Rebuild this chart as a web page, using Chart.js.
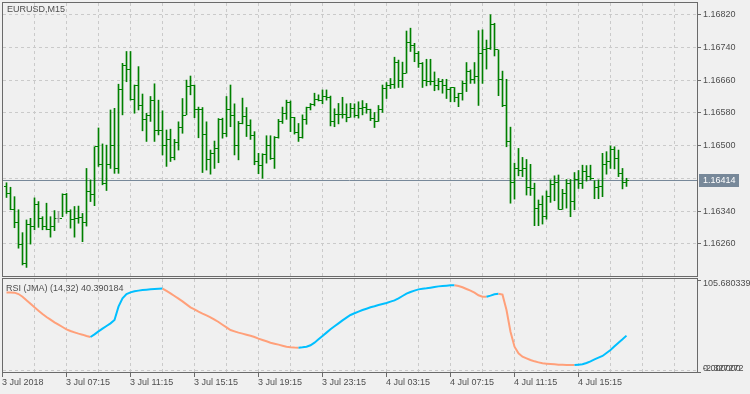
<!DOCTYPE html>
<html><head><meta charset="utf-8">
<script src="https://cdn.jsdelivr.net/npm/chart.js@4.4.0/dist/chart.umd.min.js"></script>
<style>
html,body{margin:0;padding:0;background:#f0f0f0;}
#wrap{position:relative;width:750px;height:394px;overflow:hidden;}
canvas{position:absolute;left:0;top:0;}
</style></head><body>
<div id="wrap"><canvas id="main" width="750" height="394"></canvas><canvas id="rsi" width="750" height="394"></canvas></div>
<script>
const symbolTitle = 'EURUSD,M15';
const rsiTitle = 'RSI (JMA) (14,32)';
const timeTickLabels = ['3 Jul 2018','3 Jul 07:15','3 Jul 11:15','3 Jul 15:15','3 Jul 19:15','3 Jul 23:15','4 Jul 03:15','4 Jul 07:15','4 Jul 11:15','4 Jul 15:15'];
const timeTickIndex = [-1,15,31,47,63,79,95,111,127,143];
const priceTicks = [1.16260,1.16340,1.16420,1.16500,1.16580,1.16660,1.16740,1.16820];
const rsiMax = 105.680339, rsiMin = -2.327272;
const rsiTickLabels = ['105.680339','-2.327272','0.000000'];

const high = [1.16408,1.16397,1.16374,1.16342,1.16286,1.16317,1.16321,1.16371,1.16362,1.16325,
1.16358,1.16325,1.16340,1.16338,1.16381,1.16382,1.16342,1.16350,1.16351,1.16333,
1.16443,1.16415,1.16496,1.16542,1.16503,1.16500,1.16586,1.16590,1.16649,1.16700,
1.16729,1.16729,1.16647,1.16692,1.16625,1.16578,1.16619,1.16650,1.16610,1.16584,
1.16537,1.16539,1.16514,1.16557,1.16614,1.16659,1.16669,1.16647,1.16593,1.16592,
1.16557,1.16488,1.16510,1.16565,1.16566,1.16619,1.16647,1.16601,1.16558,1.16615,
1.16592,1.16562,1.16533,1.16480,1.16479,1.16523,1.16523,1.16521,1.16563,1.16593,
1.16610,1.16608,1.16568,1.16553,1.16574,1.16593,1.16602,1.16627,1.16623,1.16635,
1.16635,1.16620,1.16589,1.16602,1.16617,1.16601,1.16602,1.16601,1.16606,1.16609,
1.16602,1.16588,1.16580,1.16597,1.16647,1.16653,1.16663,1.16715,1.16708,1.16703,
1.16779,1.16786,1.16749,1.16729,1.16702,1.16710,1.16710,1.16679,1.16663,1.16661,
1.16661,1.16641,1.16641,1.16627,1.16657,1.16702,1.16684,1.16702,1.16780,1.16782,
1.16757,1.16819,1.16798,1.16733,1.16681,1.16661,1.16544,1.16456,1.16492,1.16470,
1.16465,1.16453,1.16407,1.16366,1.16376,1.16388,1.16415,1.16425,1.16427,1.16392,
1.16416,1.16416,1.16433,1.16438,1.16451,1.16450,1.16451,1.16413,1.16415,1.16480,
1.16484,1.16498,1.16496,1.16488,1.16443,1.16419];
const low = [1.16372,1.16342,1.16298,1.16248,1.16207,1.16201,1.16258,1.16293,1.16299,1.16293,
1.16293,1.16275,1.16291,1.16311,1.16325,1.16333,1.16297,1.16275,1.16309,1.16264,
1.16302,1.16362,1.16352,1.16448,1.16403,1.16389,1.16443,1.16431,1.16431,1.16574,
1.16655,1.16610,1.16578,1.16586,1.16535,1.16509,1.16558,1.16509,1.16525,1.16476,
1.16448,1.16460,1.16464,1.16488,1.16529,1.16574,1.16623,1.16567,1.16518,1.16433,
1.16439,1.16429,1.16443,1.16457,1.16517,1.16521,1.16545,1.16476,1.16464,1.16552,
1.16521,1.16514,1.16452,1.16430,1.16419,1.16456,1.16465,1.16443,1.16517,1.16553,
1.16563,1.16533,1.16527,1.16509,1.16517,1.16551,1.16586,1.16596,1.16608,1.16601,
1.16610,1.16547,1.16545,1.16552,1.16566,1.16557,1.16568,1.16568,1.16566,1.16574,
1.16578,1.16560,1.16543,1.16558,1.16580,1.16614,1.16638,1.16639,1.16641,1.16641,
1.16676,1.16729,1.16704,1.16690,1.16641,1.16645,1.16647,1.16633,1.16635,1.16627,
1.16614,1.16606,1.16606,1.16594,1.16610,1.16631,1.16651,1.16651,1.16597,1.16651,
1.16686,1.16734,1.16718,1.16621,1.16594,1.16496,1.16358,1.16368,1.16425,1.16423,
1.16378,1.16377,1.16303,1.16303,1.16307,1.16319,1.16360,1.16364,1.16343,1.16343,
1.16346,1.16325,1.16342,1.16394,1.16394,1.16412,1.16415,1.16369,1.16369,1.16374,
1.16429,1.16443,1.16442,1.16423,1.16393,1.16399];
const close = [1.16381,1.16343,1.16312,1.16258,1.16210,1.16306,1.16302,1.16356,1.16320,1.16301,
1.16294,1.16301,1.16320,1.16320,1.16379,1.16338,1.16317,1.16320,1.16324,1.16312,
1.16387,1.16379,1.16496,1.16453,1.16405,1.16453,1.16498,1.16443,1.16635,1.16695,
1.16684,1.16612,1.16645,1.16596,1.16563,1.16573,1.16608,1.16535,1.16537,1.16499,
1.16514,1.16469,1.16506,1.16544,1.16573,1.16644,1.16646,1.16588,1.16586,1.16527,
1.16465,1.16480,1.16492,1.16562,1.16529,1.16588,1.16573,1.16498,1.16553,1.16571,
1.16549,1.16524,1.16460,1.16449,1.16478,1.16498,1.16467,1.16519,1.16558,1.16578,
1.16605,1.16568,1.16531,1.16519,1.16562,1.16592,1.16600,1.16612,1.16610,1.16619,
1.16617,1.16557,1.16574,1.16575,1.16576,1.16568,1.16589,1.16573,1.16590,1.16593,
1.16586,1.16566,1.16558,1.16588,1.16639,1.16646,1.16649,1.16703,1.16659,1.16676,
1.16751,1.16744,1.16725,1.16700,1.16657,1.16655,1.16656,1.16647,1.16656,1.16647,
1.16635,1.16641,1.16617,1.16627,1.16650,1.16680,1.16661,1.16668,1.16725,1.16734,
1.16736,1.16796,1.16733,1.16661,1.16596,1.16509,1.16409,1.16443,1.16439,1.16443,
1.16397,1.16395,1.16344,1.16356,1.16326,1.16374,1.16404,1.16409,1.16343,1.16382,
1.16407,1.16363,1.16416,1.16405,1.16436,1.16423,1.16419,1.16397,1.16399,1.16453,
1.16460,1.16490,1.16468,1.16431,1.16409,1.16414];
const open = [1.16400,1.16381,1.16343,1.16312,1.16258,1.16210,1.16306,1.16302,1.16356,1.16320,
1.16301,1.16294,1.16301,1.16320,1.16320,1.16379,1.16338,1.16317,1.16320,1.16324,
1.16312,1.16387,1.16379,1.16496,1.16453,1.16405,1.16453,1.16498,1.16443,1.16635,
1.16695,1.16684,1.16612,1.16645,1.16596,1.16563,1.16573,1.16608,1.16535,1.16537,
1.16499,1.16514,1.16469,1.16506,1.16544,1.16573,1.16644,1.16646,1.16588,1.16586,
1.16527,1.16465,1.16480,1.16492,1.16562,1.16529,1.16588,1.16573,1.16498,1.16553,
1.16571,1.16549,1.16524,1.16460,1.16449,1.16478,1.16498,1.16467,1.16519,1.16558,
1.16578,1.16605,1.16568,1.16531,1.16519,1.16562,1.16592,1.16600,1.16612,1.16610,
1.16619,1.16617,1.16557,1.16574,1.16575,1.16576,1.16568,1.16589,1.16573,1.16590,
1.16593,1.16586,1.16566,1.16558,1.16588,1.16639,1.16646,1.16649,1.16703,1.16659,
1.16676,1.16751,1.16744,1.16725,1.16700,1.16657,1.16655,1.16656,1.16647,1.16656,
1.16647,1.16635,1.16641,1.16617,1.16627,1.16650,1.16680,1.16661,1.16668,1.16725,
1.16734,1.16736,1.16796,1.16733,1.16661,1.16596,1.16509,1.16409,1.16443,1.16439,
1.16443,1.16397,1.16395,1.16344,1.16356,1.16326,1.16374,1.16404,1.16409,1.16343,
1.16382,1.16407,1.16363,1.16416,1.16405,1.16436,1.16423,1.16419,1.16397,1.16399,
1.16453,1.16460,1.16490,1.16468,1.16431,1.16409];
const rsi = [91.0,90.9,90.8,89.2,86.1,81.8,77.9,73.6,69.7,65.8,
62.2,59.1,56.0,53.2,50.5,47.8,45.8,44.2,42.7,41.5,
39.9,38.8,41.9,45.4,48.5,51.7,54.8,58.7,74.4,84.2,
89.2,91.2,92.4,93.2,93.9,94.3,94.7,95.1,95.5,95.6,
92.8,90.0,86.9,83.8,80.6,77.1,73.6,71.2,68.5,66.2,
64.2,61.9,59.1,56.4,53.2,50.1,47.0,45.4,43.9,42.7,
41.5,40.3,38.8,36.8,35.2,33.7,32.1,30.9,29.8,28.6,
27.4,26.6,26.3,26.2,26.6,27.4,29.0,32.1,36.0,39.9,
43.9,47.8,51.3,54.8,58.3,61.5,64.6,66.6,68.5,70.5,
72.0,73.6,74.8,76.3,77.5,78.7,80.3,81.8,84.2,86.9,
89.6,91.6,93.2,94.7,95.5,95.9,96.7,97.5,98.2,98.6,
99.0,99.4,99.5,98.6,97.1,95.1,93.2,90.8,87.7,86.1,
86.0,87.3,88.9,89.6,88.5,70.5,45.0,27.4,19.6,15.7,
13.7,11.8,10.2,9.0,7.9,7.5,7.1,6.7,6.3,6.2,
6.0,5.95,5.9,6.3,6.7,8.3,10.2,12.55,14.5,16.5,
20.0,23.5,27.8,32.1,36.0,40.390184];

const BG = '#f0f0f0', GRID = '#cacaca', FRAME = '#6a6a6a', TXT = '#4e4e4e';
const BAR = '#008000', DOJI = '#a0a0a0', PRICE = '#778899';
const UP = '#00bfff', DOWN = '#ffa07a';
const FONT = '9px "Liberation Sans", Arial, sans-serif';
const lastPrice = close[close.length - 1];
const X_MIN = -1.125, X_MAX = 172.625;

function hline(ctx, x1, x2, y){ ctx.beginPath(); ctx.moveTo(x1, y); ctx.lineTo(x2, y); ctx.stroke(); }
function vline(ctx, x, y1, y2){ ctx.beginPath(); ctx.moveTo(x, y1); ctx.lineTo(x, y2); ctx.stroke(); }
function vGrid(chart, y1, y2){
  const {ctx, scales:{x}, chartArea:a} = chart;
  ctx.save(); ctx.strokeStyle = GRID; ctx.lineWidth = 1; ctx.setLineDash([3,3]);
  for (let v = -1 + 8; v <= X_MAX; v += 8) {
    const px = Math.floor(x.getPixelForValue(v)) + 0.5;
    if (px >= a.right - 1) continue;
    vline(ctx, px, y1, y2);
  }
  ctx.restore();
}

const mainDeco = {
  id: 'mainDeco',
  beforeDraw(chart){ const c = chart.ctx; c.save(); c.fillStyle = BG; c.fillRect(0,0,chart.width,chart.height); c.restore(); },
  beforeDatasetsDraw(chart){
    const {ctx, scales:{y}, chartArea:a} = chart;
    vGrid(chart, a.top + 1, a.bottom);
    ctx.save(); ctx.strokeStyle = GRID; ctx.lineWidth = 1; ctx.setLineDash([3,3]);
    priceTicks.forEach(p => { const py = Math.round(y.getPixelForValue(p)) + 0.5; hline(ctx, a.left + 1, a.right, py); });
    ctx.setLineDash([]);
    ctx.strokeStyle = PRICE;
    hline(ctx, a.left, a.right, Math.round(y.getPixelForValue(lastPrice)) + 0.5);
    ctx.restore();
  },
  afterDatasetsDraw(chart){
    const {ctx, scales:{x, y}} = chart;
    ctx.save();
    for (let i = 0; i < close.length; i++) {
      const px = Math.floor(x.getPixelForValue(i));
      ctx.fillStyle = open[i] === close[i] ? DOJI : BAR;
      ctx.fillRect(px - 2, Math.round(y.getPixelForValue(open[i]) - 0.5), 2, 1);
      ctx.fillRect(px + 1, Math.round(y.getPixelForValue(close[i]) - 0.5), 2, 1);
    }
    ctx.restore();
  },
  afterDraw(chart){
    const {ctx, scales:{y}, chartArea:a} = chart;
    ctx.save();
    ctx.strokeStyle = FRAME; ctx.lineWidth = 1;
    ctx.strokeRect(a.left + 0.5, a.top + 0.5, a.right - a.left, a.bottom - a.top);
    ctx.font = FONT; ctx.textBaseline = 'middle'; ctx.textAlign = 'left';
    const yPrice = y.getPixelForValue(lastPrice);
    priceTicks.forEach(p => {
      const py = Math.round(y.getPixelForValue(p)) + 0.5;
      if (Math.abs(py - yPrice) < 9) return;
      ctx.strokeStyle = FRAME; hline(ctx, a.right, a.right + 4, py);
      ctx.fillStyle = TXT; ctx.fillText(p.toFixed(5), a.right + 6, py);
    });
    const pr = Math.round(yPrice);
    ctx.fillStyle = PRICE; ctx.fillRect(a.right + 2, pr - 6, 40, 13);
    ctx.fillStyle = '#ffffff'; ctx.fillText(lastPrice.toFixed(5), a.right + 6, pr + 0.5);
    ctx.fillStyle = TXT; ctx.fillText(symbolTitle, 7, 10);
    ctx.restore();
  }
};

new Chart(document.getElementById('main'), {
  type: 'bar',
  data: { datasets: [{
    data: high.map((h, i) => ({x: i, y: [low[i], h]})),
    backgroundColor: open.map((o, i) => o === close[i] ? DOJI : BAR),
    barThickness: 1, borderWidth: 0
  }]},
  options: {
    responsive: false, animation: false, devicePixelRatio: 1,
    layout: {padding: {left: 2, top: 2, right: 53, bottom: 118}},
    plugins: {legend: {display: false}, tooltip: {enabled: false}},
    scales: {
      x: {type: 'linear', display: false, offset: false, min: X_MIN, max: X_MAX},
      y: {type: 'linear', display: false, min: 1.16180, max: 1.16850}
    }
  },
  plugins: [mainDeco]
});

function trendColor(i){
  for (let k = i; k >= 0; k--) {
    if (rsi[k + 1] > rsi[k]) return UP;
    if (rsi[k + 1] < rsi[k]) return DOWN;
  }
  return DOWN;
}

const rsiDeco = {
  id: 'rsiDeco',
  beforeDatasetsDraw(chart){
    const {ctx, scales:{y}, chartArea:a} = chart;
    vGrid(chart, 279, a.bottom);
    ctx.save(); ctx.strokeStyle = GRID; ctx.lineWidth = 1; ctx.setLineDash([3,3]);
    hline(ctx, a.left + 1, a.right, Math.round(y.getPixelForValue(0)) + 0.5);
    ctx.restore();
  },
  afterDraw(chart){
    const {ctx, scales:{x, y}, chartArea:a} = chart;
    ctx.save();
    ctx.strokeStyle = FRAME; ctx.lineWidth = 1;
    ctx.strokeRect(a.left + 0.5, 278.5, a.right - a.left, a.bottom - 278);
    ctx.font = FONT; ctx.textBaseline = 'middle'; ctx.textAlign = 'left';
    const yTop = Math.round(y.getPixelForValue(rsiMax)) + 0.5;
    const yBot = Math.round(y.getPixelForValue(rsiMin)) + 0.5;
    hline(ctx, a.right, a.right + 4, yTop);
    hline(ctx, a.right, a.right + 4, yBot);
    ctx.fillStyle = TXT;
    ctx.fillText(rsiTickLabels[0], a.right + 6, yTop + 3);
    ctx.fillText(rsiTickLabels[1], a.right + 6, yBot - 4);
    ctx.fillText(rsiTickLabels[2], a.right + 6, yBot - 4);
    timeTickIndex.forEach((v, k) => {
      const px = Math.floor(x.getPixelForValue(v)) + 0.5;
      vline(ctx, px, a.bottom, a.bottom + 5);
      ctx.fillText(timeTickLabels[k], px - 0.5, 382.5);
    });
    ctx.fillText(rsiTitle + ' ' + rsi[rsi.length - 1].toFixed(6), 6, 288.5);
    ctx.restore();
  }
};

new Chart(document.getElementById('rsi'), {
  type: 'line',
  data: { datasets: [{
    data: rsi.map((v, i) => ({x: i, y: v})),
    borderWidth: 2, pointRadius: 0, tension: 0, fill: false,
    borderColor: UP,
    segment: { borderColor: ctx => trendColor(ctx.p0DataIndex) }
  }]},
  options: {
    responsive: false, animation: false, devicePixelRatio: 1,
    layout: {padding: {left: 2, top: 280, right: 53, bottom: 22}},
    plugins: {legend: {display: false}, tooltip: {enabled: false}},
    scales: {
      x: {type: 'linear', display: false, min: X_MIN, max: X_MAX},
      y: {type: 'linear', display: false, min: rsiMin, max: rsiMax}
    }
  },
  plugins: [rsiDeco]
});
</script>
</body></html>
